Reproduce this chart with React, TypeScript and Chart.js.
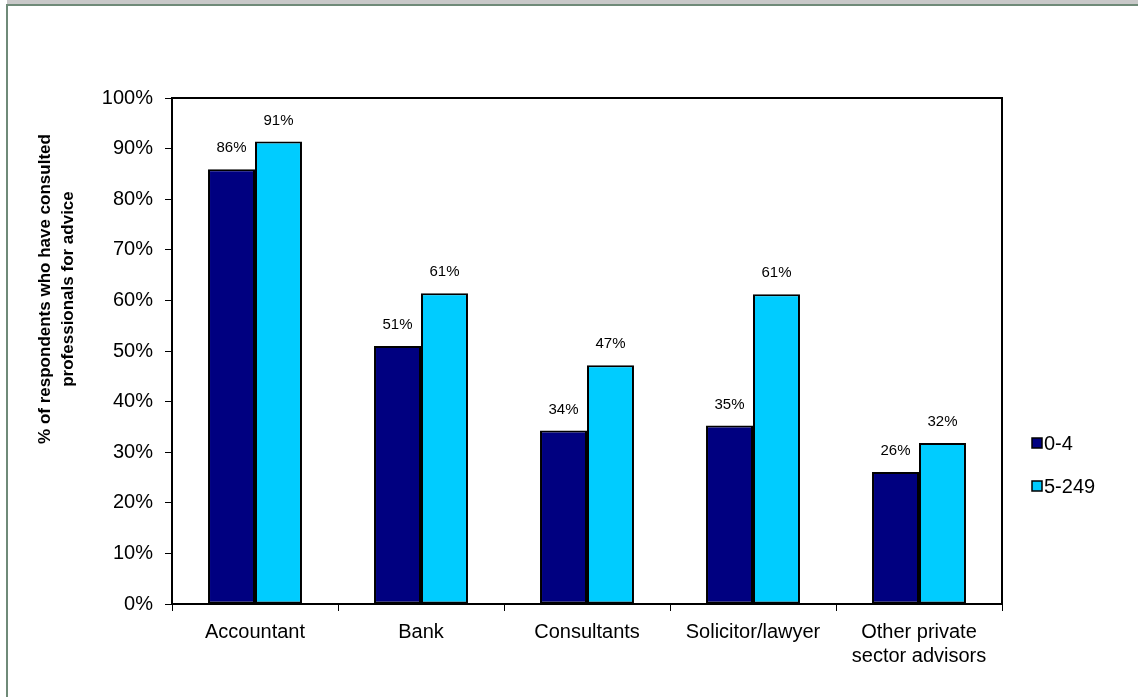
import React, { useEffect, useRef } from 'react';
import { Chart, registerables } from 'chart.js';

Chart.register(...registerables);

const categories: string[][] = [
  ['Accountant'],
  ['Bank'],
  ['Consultants'],
  ['Solicitor/lawyer'],
  ['Other private', 'sector advisors'],
];
const seriesNames = ['0-4', '5-249'];
const values04 = [85.9, 51.0, 34.3, 35.3, 26.1];
const values5249 = [91.4, 61.4, 47.2, 61.2, 31.8];
const seriesColors = ['#000080', '#00CCFF'];
const yTitleLines = ['% of respondents who have consulted', 'professionals for advice'];

const FONT = '"Liberation Sans", Arial, sans-serif';

export default function App() {
  const ref = useRef<HTMLCanvasElement | null>(null);

  useEffect(() => {
    const canvas = ref.current;
    if (!canvas) return;

    const framePlugin = {
      id: 'frame',
      beforeDraw(chart: any) {
        const ctx = chart.ctx;
        ctx.save();
        ctx.fillStyle = '#ffffff';
        ctx.fillRect(0, 0, chart.width, chart.height);
        ctx.fillStyle = '#c8c8c8';
        ctx.fillRect(7, 0, chart.width - 7, 4);
        ctx.fillStyle = '#6f8a78';
        ctx.fillRect(6, 4, chart.width - 6, 2);
        ctx.fillRect(6, 4, 2, chart.height - 4);
        ctx.restore();
      },
    };

    const decorPlugin = {
      id: 'decor',
      afterDatasetsDraw(chart: any) {
        const ctx = chart.ctx;
        const area = chart.chartArea;
        ctx.save();
        // plot border
        ctx.strokeStyle = '#000000';
        ctx.lineWidth = 2;
        ctx.strokeRect(area.left, area.top, area.right - area.left, area.bottom - area.top);

        // data labels
        ctx.fillStyle = '#000000';
        ctx.font = `15px ${FONT}`;
        ctx.textAlign = 'center';
        ctx.textBaseline = 'middle';
        chart.data.datasets.forEach((ds: any, di: number) => {
          const meta = chart.getDatasetMeta(di);
          meta.data.forEach((bar: any, i: number) => {
            const v = ds.data[i];
            ctx.fillText(`${Math.round(v)}%`, bar.x, bar.y - 21);
          });
        });

        // y axis title
        ctx.font = `bold 17px ${FONT}`;
        const cy = 289;
        yTitleLines.forEach((line, li) => {
          ctx.save();
          ctx.translate(45 + li * 23, cy);
          ctx.rotate(-Math.PI / 2);
          ctx.fillText(line, 0, 0);
          ctx.restore();
        });

        // legend
        ctx.font = `20px ${FONT}`;
        ctx.textAlign = 'left';
        const legendY = [443, 486];
        chart.data.datasets.forEach((ds: any, di: number) => {
          const y = legendY[di];
          ctx.fillStyle = ds.backgroundColor;
          ctx.fillRect(1032, y - 5, 10, 10);
          ctx.strokeStyle = '#000000';
          ctx.lineWidth = 1.5;
          ctx.strokeRect(1032, y - 5, 10, 10);
          ctx.fillStyle = '#000000';
          ctx.fillText(ds.label, 1044, y + 1);
        });
        ctx.restore();
      },
    };

    const chart = new Chart(canvas, {
      type: 'bar',
      data: {
        labels: categories,
        datasets: [
          {
            label: seriesNames[0],
            data: values04,
            backgroundColor: seriesColors[0],
            borderColor: '#000000',
            borderWidth: 2,
            borderSkipped: false,
            categoryPercentage: 0.566,
            barPercentage: 1,
          },
          {
            label: seriesNames[1],
            data: values5249,
            backgroundColor: seriesColors[1],
            borderColor: '#000000',
            borderWidth: 2,
            borderSkipped: false,
            categoryPercentage: 0.566,
            barPercentage: 1,
          },
        ],
      },
      options: {
        responsive: false,
        animation: false,
        devicePixelRatio: 1,
        layout: { padding: { left: 0, top: 98, right: 136, bottom: 0 } },
        plugins: {
          legend: { display: false },
          title: { display: false },
          tooltip: { enabled: false },
        },
        scales: {
          x: {
            grid: {
              display: true,
              offset: true,
              drawOnChartArea: false,
              drawTicks: true,
              tickLength: 7,
              color: '#000000',
              lineWidth: 1,
            },
            border: { display: false },
            ticks: {
              color: '#000000',
              font: { family: FONT, size: 20, lineHeight: 1.2 },
              padding: 9,
              maxRotation: 0,
              autoSkip: false,
            },
            afterFit(scale: any) {
              scale.height = 93;
            },
          },
          y: {
            min: 0,
            max: 100,
            grid: {
              display: true,
              drawOnChartArea: false,
              drawTicks: true,
              tickLength: 7,
              color: '#000000',
              lineWidth: 1,
            },
            border: { display: false },
            ticks: {
              stepSize: 10,
              color: '#000000',
              font: { family: FONT, size: 20 },
              padding: 12,
              callback: (v: any) => `${v}%`,
            },
            afterFit(scale: any) {
              scale.width = 172;
            },
          },
        },
      },
      plugins: [framePlugin, decorPlugin],
    } as any);

    return () => chart.destroy();
  }, []);

  return (
    <div style={{ position: 'absolute', left: 0, top: 0, width: 1138, height: 697 }}>
      <canvas ref={ref} width={1138} height={697} style={{ display: 'block' }} />
    </div>
  );
}
